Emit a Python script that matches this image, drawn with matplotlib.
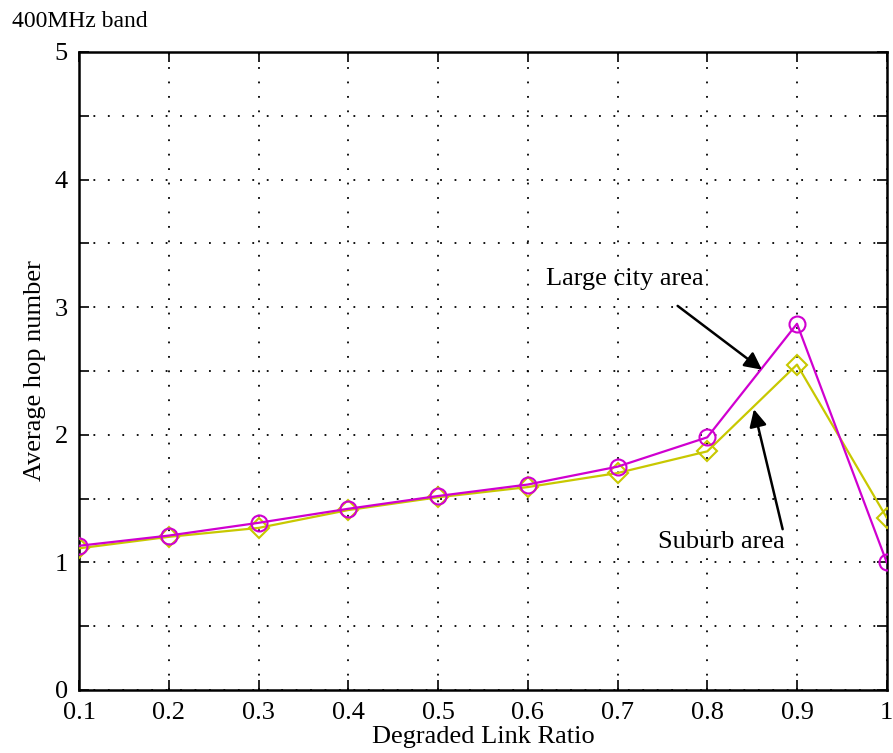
import matplotlib
matplotlib.use("Agg")
import matplotlib.pyplot as plt
import numpy as np

plt.rcParams['font.family'] = ['Liberation Serif', 'DejaVu Serif']

x = [0.1, 0.2, 0.3, 0.4, 0.5, 0.6, 0.7, 0.8, 0.9, 1.0]
large_city = [1.13, 1.21, 1.31, 1.42, 1.52, 1.61, 1.75, 1.98, 2.87, 1.00]
suburb = [1.11, 1.20, 1.27, 1.41, 1.51, 1.59, 1.70, 1.87, 2.55, 1.35]
xtick_labels = ["0.1", "0.2", "0.3", "0.4", "0.5", "0.6", "0.7", "0.8", "0.9", "1"]
yticks = [0, 1, 2, 3, 4, 5]

fig = plt.figure(figsize=(8.93, 7.53), dpi=100)
ax = fig.add_axes([0.0885, 0.0837, 0.9045, 0.8473])

ax.plot(x, suburb, color='#C8C800', marker='D', markersize=10, markerfacecolor='none',
        markeredgewidth=1.5, linewidth=1.6, zorder=3)
ax.plot(x, large_city, color='#D000D0', marker='o', markersize=11.5, markerfacecolor='none',
        markeredgewidth=1.5, linewidth=1.6, zorder=4)

ax.set_xlim(0.1, 1.0)
ax.set_ylim(0, 5)
ax.set_xticks(x)
ax.set_xticklabels(xtick_labels)
ax.set_yticks(yticks)
ax.set_yticks(np.arange(0.5, 5, 1.0), minor=True)
ax.grid(True, which='both', linestyle=(0, (1, 7)), color='black', linewidth=1.3)
ax.tick_params(which='both', direction='in', top=True, right=True, length=7, width=1.2,
               labelsize=19)
ax.tick_params(axis='x', pad=9)
ax.tick_params(axis='y', pad=8)
for s in ax.spines.values():
    s.set_linewidth(1.8)

ax.set_xlabel('Degraded Link Ratio', fontsize=19, labelpad=1)
ax.set_ylabel('Average hop number', fontsize=19, labelpad=6)
fig.text(0.013, 0.985, '400MHz band', fontsize=17, ha='left', va='top')

arrow_kw = dict(arrowstyle='-|>', color='black', lw=1.8, mutation_scale=26,
                shrinkA=0, shrinkB=0)
ax.text(0.708, 3.22, 'Large city area', fontsize=19, ha='center', va='center', zorder=5)
ax.annotate('', xy=(0.861, 2.51), xytext=(0.767, 3.01), arrowprops=arrow_kw, zorder=5)
ax.text(0.816, 1.16, 'Suburb area', fontsize=19, ha='center', va='center', zorder=5)
ax.annotate('', xy=(0.852, 2.20), xytext=(0.884, 1.26), arrowprops=arrow_kw, zorder=5)

fig.savefig('out.png', dpi=100)
